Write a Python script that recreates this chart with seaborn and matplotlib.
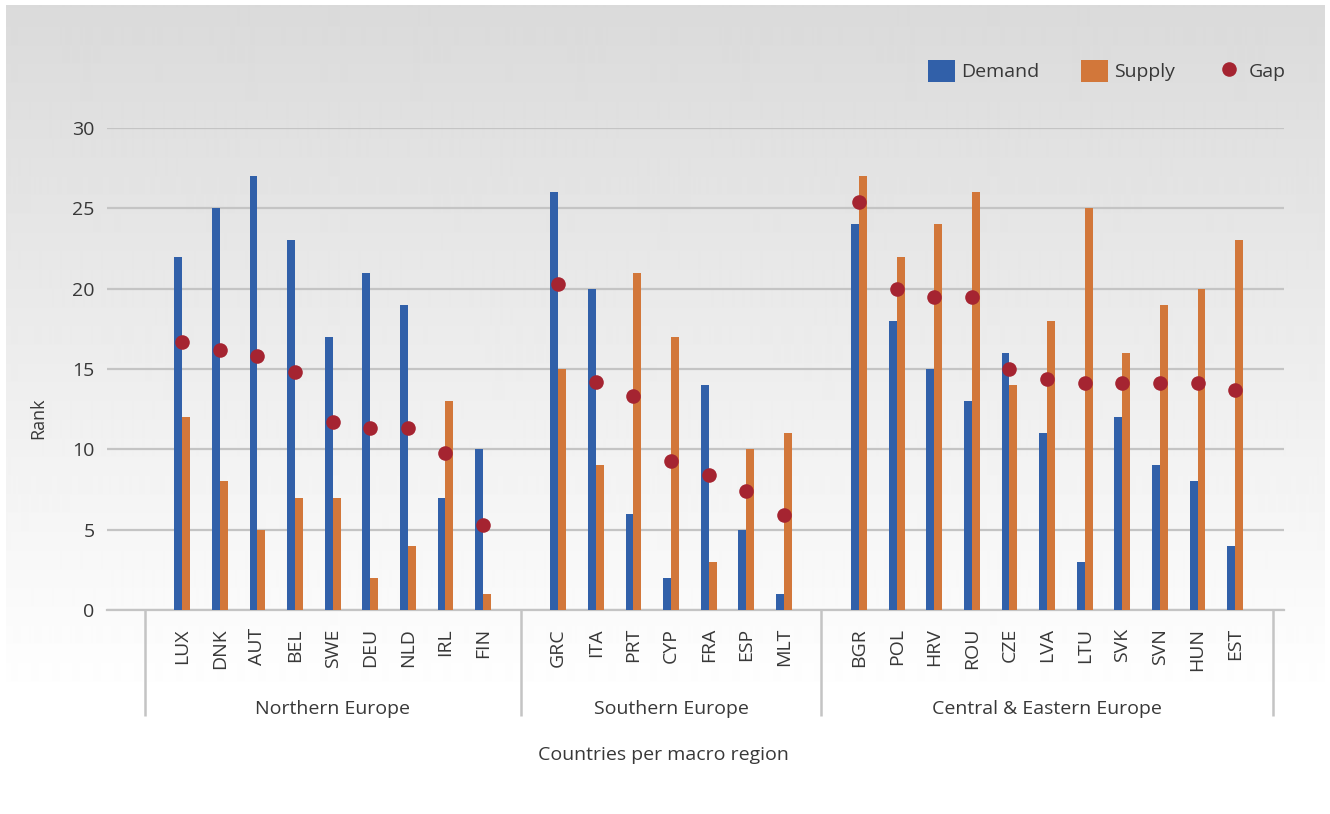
import numpy as np
import pandas as pd
import matplotlib
matplotlib.use("Agg")
import matplotlib.pyplot as plt
from matplotlib.patches import Patch
from matplotlib.lines import Line2D
import matplotlib.transforms as mtransforms
import seaborn as sns

# ---- data -------------------------------------------------------------
regions = ["Northern Europe", "Southern Europe", "Central & Eastern Europe"]

north = ["LUX", "DNK", "AUT", "BEL", "SWE", "DEU", "NLD", "IRL", "FIN"]
south = ["GRC", "ITA", "PRT", "CYP", "FRA", "ESP", "MLT"]
cee = ["BGR", "POL", "HRV", "ROU", "CZE", "LVA", "LTU", "SVK", "SVN", "HUN", "EST"]

north_demand = [22, 25, 27, 23, 17, 21, 19, 7, 10]
north_supply = [12, 8, 5, 7, 7, 2, 4, 13, 1]
north_gap = [16.7, 16.2, 15.8, 14.8, 11.7, 11.3, 11.3, 9.8, 5.3]

south_demand = [26, 20, 6, 2, 14, 5, 1]
south_supply = [15, 9, 21, 17, 3, 10, 11]
south_gap = [20.3, 14.2, 13.3, 9.3, 8.4, 7.4, 5.9]

cee_demand = [24, 18, 15, 13, 16, 11, 3, 12, 9, 8, 4]
cee_supply = [27, 22, 24, 26, 14, 18, 25, 16, 19, 20, 23]
cee_gap = [25.4, 20.0, 19.5, 19.5, 15.0, 14.4, 14.1, 14.1, 14.1, 14.1, 13.7]

y_ticks = [0, 5, 10, 15, 20, 25, 30]

# ---- tidy tables ------------------------------------------------------
countries = north + south + cee
demand = north_demand + south_demand + cee_demand
supply = north_supply + south_supply + cee_supply
gap = north_gap + south_gap + cee_gap

bars = pd.DataFrame({
    "country": countries * 2,
    "series": ["Demand"] * len(countries) + ["Supply"] * len(countries),
    "rank": demand + supply,
})
gaps = pd.DataFrame({"country": countries, "gap": gap})

# each region starts with an empty slot on the category axis
groups = [north, south, cee]
order = []
for i, g in enumerate(groups):
    order.append(f"_blank{i}")
    order.extend(g)
order.append("_blank_end")

# ---- style ------------------------------------------------------------
sns.set_theme(style="white")
plt.rcParams["font.family"] = ["Open Sans", "DejaVu Sans"]
text_col = "#383838"
grid_col = "#c4c4c4"
c_demand = "#3160a9"
c_supply = "#d2773a"
c_gap = "#a52431"

W, H = 1330, 814
fig = plt.figure(figsize=(W / 100, H / 100), dpi=100)
fig.patch.set_facecolor("white")

# soft vertical gradient panel behind the chart
bg = fig.add_axes([6 / W, 0, (W - 11) / W, (H - 5) / H], zorder=-10)
rows = np.arange(H - 5)
shade = np.clip(218 + (255 - 218) * rows / 695.0, 0, 255) / 255.0
grad = np.repeat(shade[:, None], 2, axis=1)
bg.imshow(grad, cmap="gray", vmin=0, vmax=1, aspect="auto",
          extent=[0, 1, 1, 0], interpolation="bilinear")
bg.set_axis_off()

ax = fig.add_axes([107 / W, (H - 610) / H, 1177 / W, 482 / H])
ax.set_facecolor("none")

sns.barplot(data=bars, x="country", y="rank", hue="series", order=order,
            hue_order=["Demand", "Supply"], palette=[c_demand, c_supply],
            width=0.42, saturation=1, linewidth=0, legend=False, ax=ax,
            zorder=3)
sns.stripplot(data=gaps, x="country", y="gap", order=order, jitter=False,
              color=c_gap, size=10.5, linewidth=0, ax=ax, zorder=4)

ax.set_ylim(0, 30)
ax.set_xlim(-1.0, len(order) - 1 + 0.3)
ax.set_yticks(y_ticks)
ax.yaxis.grid(True, color=grid_col, linewidth=1.6)
ax.set_axisbelow(True)
for s in ["top", "right", "left"]:
    ax.spines[s].set_visible(False)
ax.spines["bottom"].set_color(grid_col)
ax.spines["bottom"].set_linewidth(1.6)
ax.tick_params(axis="y", length=0, pad=9, labelsize=14, labelcolor=text_col)

pos = [order.index(c) for c in countries]
ax.set_xticks(pos)
ax.set_xticklabels(countries, rotation=90, fontsize=14, color=text_col)
ax.tick_params(axis="x", length=0, pad=13)
ax.set_xlabel("")
ax.set_ylabel("")

# region brackets below the category axis
trans = mtransforms.blended_transform_factory(ax.transData, ax.transAxes)
seps = [order.index(f"_blank{i}") for i in range(len(groups))] + [len(order) - 1]
for xs in seps:
    ax.plot([xs, xs], [0, -0.22], transform=trans, color=grid_col,
            linewidth=1.8, clip_on=False, solid_capstyle="butt")
for i, name in enumerate(regions):
    ax.text((seps[i] + seps[i + 1]) / 2, -0.205, name, transform=trans,
            ha="center", va="center", fontsize=14, color=text_col)

ax.text(0.4725, -0.30, "Countries per macro region", transform=ax.transAxes,
        ha="center", va="center", fontsize=14, color=text_col)
fig.text(38 / W, 1 - 418 / H, "Rank", rotation=90, ha="center",
         va="center", fontsize=13, color=text_col)

handles = [
    Patch(facecolor=c_demand, edgecolor="none", label="Demand"),
    Patch(facecolor=c_supply, edgecolor="none", label="Supply"),
    Line2D([], [], marker="o", linestyle="none", markersize=10.5,
           markerfacecolor=c_gap, markeredgewidth=0, label="Gap"),
]
leg = fig.legend(handles=handles, loc="center right",
                 bbox_to_anchor=(1294 / W, 1 - 71 / H), ncol=3, frameon=False,
                 fontsize=14, handlelength=1.4, handleheight=1.4,
                 handletextpad=0.32, columnspacing=2.1, borderaxespad=0)
for t in leg.get_texts():
    t.set_color(text_col)

fig.savefig("out.png", dpi=100)
